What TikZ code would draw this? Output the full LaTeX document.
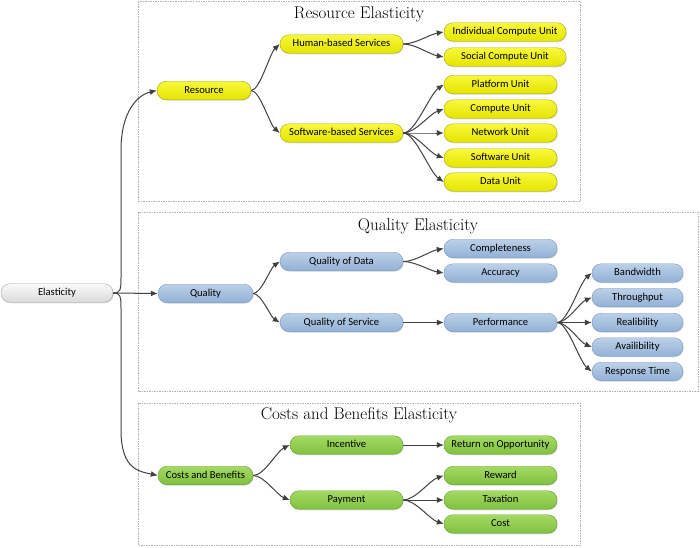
\documentclass[tikz,border=0pt]{standalone}
\usepackage{fontspec}
\setsansfont{Carlito}
\usetikzlibrary{calc,arrows.meta,shadows}
\definecolor{yelTop}{HTML}{F8F83C}
\definecolor{yelBot}{HTML}{E4E400}
\definecolor{yelLine}{HTML}{A6A600}
\definecolor{bluTop}{HTML}{BCD0E8}
\definecolor{bluBot}{HTML}{91B1D6}
\definecolor{bluLine}{HTML}{7896BC}
\definecolor{grnTop}{HTML}{A4DA64}
\definecolor{grnBot}{HTML}{80C03E}
\definecolor{grnLine}{HTML}{679C32}
\definecolor{gryTop}{HTML}{FAFAFA}
\definecolor{gryBot}{HTML}{DADADA}
\definecolor{gryLine}{HTML}{A3A3A3}
\definecolor{linkCol}{HTML}{404040}
\def\link(#1)(#2){\draw[conn] let \p1=(#1.east), \p2=(#2.west) in (\p1) .. controls ($(\p1)+(0.3*\x2-0.3*\x1,0pt)$) and ($(\p2)-(0.35*\x2-0.35*\x1,0.2*\y2-0.2*\y1)$) .. (\p2);}

\begin{document}
\begin{tikzpicture}[x=1pt,y=-1pt,
	item/.style={draw, rounded corners=9pt, minimum height=18.5pt, inner sep=0pt,
		text height=1.5ex, text depth=.25ex, font=\sffamily\fontsize{10.6}{12}\selectfont,
		drop shadow={shadow xshift=0.8pt, shadow yshift=-1pt, opacity=0.25}},
	yel/.style={item, draw=yelLine, top color=yelTop, bottom color=yelBot},
	blu/.style={item, draw=bluLine, top color=bluTop, bottom color=bluBot},
	grn/.style={item, draw=grnLine, top color=grnTop, bottom color=grnBot},
	gry/.style={item, draw=gryLine, top color=gryTop, bottom color=gryBot},
	area/.style={draw=black!30, dash pattern=on 1.5pt off 1pt, line width=0.6pt},
	title/.style={font=\rmfamily\fontsize{17}{20}\selectfont},
	conn/.style={draw=linkCol, line width=1pt, -{Latex[length=7pt,width=6pt]}}]
		%%%%% START %%%%%
		\useasboundingbox (0, 0) rectangle (700, 547);
		
		\draw[area] (138, 1) rectangle (580, 201);
		\draw[area] (138, 212) rectangle (698, 391);
		\draw[area] (138, 403) rectangle (580, 545);
		
		\node[title] (tres) at (359, 14) {Resource Elasticity};
		\node[title] (tqual) at (418, 226) {Quality Elasticity};
		\node[title] (tcb) at (359, 415) {Costs and Benefits Elasticity};
		
		\node[gry, minimum width=112pt] (elast) at (57, 293) {Elasticity};
		
		\node[yel, minimum width=94pt] (res) at (204, 90.5) {Resource};
		\node[blu, minimum width=95pt] (qual) at (205.5, 293.5) {Quality};
		\node[grn, minimum width=95pt] (cb) at (205.5, 475.5) {Costs and Benefits};
		
		\node[yel, minimum width=123pt] (hum) at (341.5, 44) {Human-based Services};
		\node[yel, minimum width=123pt] (soft) at (341.5, 133) {Software-based Services};
		\node[blu, minimum width=123pt] (qdata) at (341.5, 261.5) {Quality of Data};
		\node[blu, minimum width=123pt] (qserv) at (341.5, 322.5) {Quality of Service};
		\node[grn, minimum width=113pt] (inc) at (346.5, 445) {Incentive};
		\node[grn, minimum width=113pt] (pay) at (346.5, 500) {Payment};
		
		\node[yel, minimum width=122pt] (icu) at (505, 32) {Individual Compute Unit};
		\node[yel, minimum width=122pt] (scu) at (505, 57) {Social Compute Unit};
		\node[yel, minimum width=113pt] (plat) at (500.5, 84.5) {Platform Unit};
		\node[yel, minimum width=113pt] (comp) at (500.5, 109) {Compute Unit};
		\node[yel, minimum width=113pt] (net) at (500.5, 133) {Network Unit};
		\node[yel, minimum width=113pt] (sw) at (500.5, 158) {Software Unit};
		\node[yel, minimum width=113pt] (data) at (500.5, 182) {Data Unit};
		
		\node[blu, minimum width=113pt] (compl) at (500.5, 248.5) {Completeness};
		\node[blu, minimum width=113pt] (acc) at (500.5, 273) {Accuracy};
		\node[blu, minimum width=113pt] (perf) at (500.5, 322.5) {Performance};
		\node[blu, minimum width=91pt] (bw) at (637.5, 273) {Bandwidth};
		\node[blu, minimum width=91pt] (thr) at (637.5, 297.5) {Throughput};
		\node[blu, minimum width=91pt] (rel) at (637.5, 322.5) {Realibility};
		\node[blu, minimum width=91pt] (avail) at (637.5, 347) {Availibility};
		\node[blu, minimum width=91pt] (resp) at (637.5, 371.5) {Response Time};
		
		\node[grn, minimum width=113pt] (roo) at (500.5, 445) {Return on Opportunity};
		\node[grn, minimum width=113pt] (rew) at (500.5, 475.5) {Reward};
		\node[grn, minimum width=113pt] (tax) at (500.5, 500) {Taxation};
		\node[grn, minimum width=113pt] (cost) at (500.5, 524) {Cost};
		
		\draw[conn] (elast.east) .. controls +(7, 0) and +(0, 12) .. (121, 278) -- (121, 150) .. controls +(0, -40) and +(-18, 4) .. (res.west);
		\draw[conn] (elast.east) -- (qual.west);
		\draw[conn] (elast.east) .. controls +(7, 0) and +(0, -12) .. (121, 308) -- (121, 430) .. controls +(0, 40) and +(-18, -4) .. (cb.west);
		
		\link(res)(hum) \link(res)(soft)
		\link(hum)(icu) \link(hum)(scu)
		\link(soft)(plat) \link(soft)(comp) \link(soft)(net) \link(soft)(sw) \link(soft)(data)
		
		\link(qual)(qdata) \link(qual)(qserv)
		\link(qdata)(compl) \link(qdata)(acc)
		\link(qserv)(perf)
		\link(perf)(bw) \link(perf)(thr) \link(perf)(rel) \link(perf)(avail) \link(perf)(resp)
		
		\link(cb)(inc) \link(cb)(pay)
		\link(inc)(roo)
		\link(pay)(rew) \link(pay)(tax) \link(pay)(cost)
		%%%%% END %%%%%
\end{tikzpicture}
\end{document}
